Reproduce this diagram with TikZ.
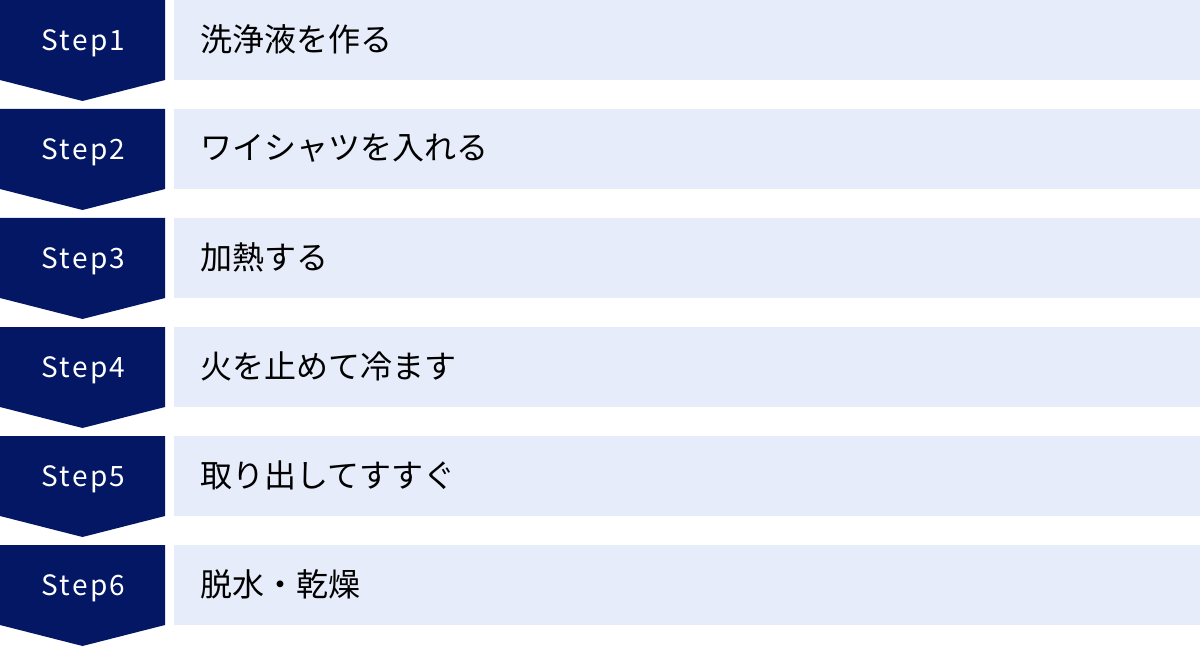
\documentclass[tikz,border=0pt]{standalone}
\usepackage{fontspec}
\setmainfont{Noto Sans CJK JP}
\newfontfamily\stepfont[LetterSpace=8]{Noto Sans CJK JP}
\usetikzlibrary{positioning}
\definecolor{stepnavy}{HTML}{031764}
\definecolor{barblue}{HTML}{E6ECF9}

\begin{document}
\begin{tikzpicture}[x=1pt,y=-1pt,
  stepshape/.style={fill=stepnavy},
  stepbar/.style={fill=barblue},
  steplabel/.style={text=white,inner sep=0pt,font=\stepfont\fontsize{28}{28}\selectfont},
  bartext/.style={anchor=west,inner sep=0pt,font=\fontsize{32}{32}\selectfont}]
  \useasboundingbox (0,0) rectangle (1200,647);

  \foreach \i/\txt in {1/洗浄液を作る,2/ワイシャツを入れる,3/加熱する,
                       4/火を止めて冷ます,5/取り出してすすぐ,6/脱水・乾燥}{
    \pgfmathsetmacro\rowy{(\i-1)*109}
    % arrow box and bar
    \fill[stepshape] (0,\rowy) -- (165,\rowy) -- (165,\rowy+80)
      -- (82.5,\rowy+101) -- (0,\rowy+80) -- cycle;
    \fill[stepbar] (174,\rowy) rectangle (1200,\rowy+80);
    \node(S\i)[steplabel] at (83.5,\rowy+43) {Step\i};
    \node(T\i)[bartext] at (200,\rowy+39.5) {\txt};
  }
\end{tikzpicture}
\end{document}
